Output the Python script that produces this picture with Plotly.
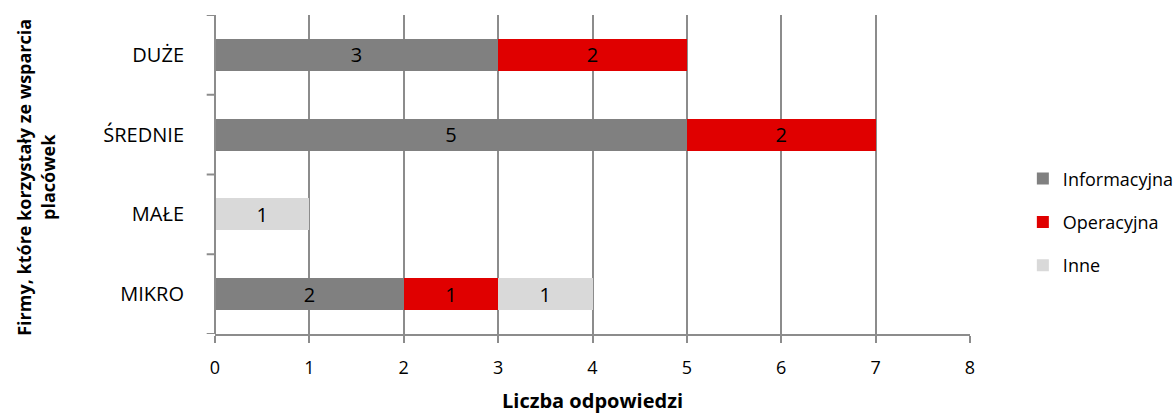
import plotly.graph_objects as go

categories = ["MIKRO", "MAŁE", "ŚREDNIE", "DUŻE"]
informacyjna = [2, 0, 5, 3]
operacyjna = [1, 0, 2, 2]
inne = [1, 1, 0, 0]
x_ticks = [0, 1, 2, 3, 4, 5, 6, 7, 8]

series = [
    ("Informacyjna", informacyjna, "#808080"),
    ("Operacyjna", operacyjna, "#E00000"),
    ("Inne", inne, "#D9D9D9"),
]

FONT = "Open Sans"
AXIS_COL = "#8C8C8C"

fig = go.Figure()
for name, vals, col in series:
    fig.add_trace(go.Bar(
        y=categories,
        x=[v if v else None for v in vals],
        name=name,
        orientation="h",
        marker=dict(color=col, line=dict(width=0)),
        text=[str(v) if v else "" for v in vals],
        textposition="inside",
        insidetextanchor="middle",
        textangle=0,
        constraintext="none",
        textfont=dict(family=FONT, size=20, color="#000000"),
        legendgroup=name,
        hoverinfo="skip",
    ))

# category boundary tick marks on the vertical axis
shapes = []
for k in range(len(categories) + 1):
    shapes.append(dict(type="line", xref="paper", yref="y",
                       x0=-0.011, x1=0, y0=k - 0.5, y1=k - 0.5,
                       line=dict(color=AXIS_COL, width=2)))
# vertical axis line
shapes.append(dict(type="line", xref="paper", yref="paper",
                   x0=0, x1=0, y0=0, y1=1,
                   line=dict(color=AXIS_COL, width=2)))

fig.update_layout(
    width=1176, height=417,
    margin=dict(l=215, r=206, t=15, b=83, autoexpand=False),
    paper_bgcolor="white", plot_bgcolor="white",
    barmode="stack", bargap=0.6,
    font=dict(family=FONT, size=18, color="#000000"),
    shapes=shapes,
    showlegend=True,
    legend=dict(x=1.07, y=0.35, xanchor="left", yanchor="middle",
                font=dict(family=FONT, size=18, color="#000000"),
                tracegroupgap=17, itemwidth=30, traceorder="grouped"),
    xaxis=dict(range=[0, 8], tickvals=x_ticks, ticktext=[str(t) for t in x_ticks],
               showgrid=True, gridcolor=AXIS_COL, gridwidth=2,
               showline=True, linecolor=AXIS_COL, linewidth=2,
               ticks="outside", ticklen=7, tickcolor=AXIS_COL, tickwidth=2,
               ticklabelstandoff=9, tickfont=dict(size=18),
               zeroline=False, fixedrange=True),
    yaxis=dict(categoryorder="array", categoryarray=categories,
               range=[-0.5, 3.5], showgrid=False, showline=False,
               ticks="", ticklabelstandoff=30, tickfont=dict(size=20),
               zeroline=False),
    annotations=[
        dict(text="<b>Firmy, które korzystały ze wsparcia<br>placówek</b>",
             xref="paper", yref="paper", x=-0.237, y=0.49,
             xanchor="center", yanchor="middle", textangle=-90,
             showarrow=False, font=dict(family=FONT, size=18)),
        dict(text="<b>Liczba odpowiedzi</b>",
             xref="paper", yref="paper", x=0.5, y=-0.21,
             xanchor="center", yanchor="middle",
             showarrow=False, font=dict(family=FONT, size=20)),
    ],
)

fig.write_html("out.html")
